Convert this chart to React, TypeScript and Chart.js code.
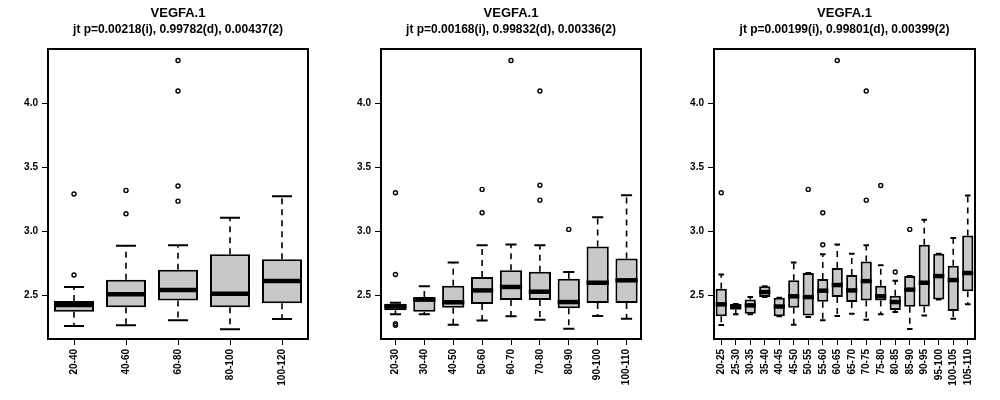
import React from "react";
import { Chart, registerables } from "chart.js";

Chart.register(...registerables);

const TITLE = "VEGFA.1";
const yTicks = [2.5, 3.0, 3.5, 4.0];

// panel 1
const labels1 = ["20-40", "40-60", "60-80", "80-100", "100-120"];
const q1_1 = [2.37, 2.404, 2.458, 2.404, 2.435];
const med1 = [2.422, 2.505, 2.539, 2.51, 2.609];
const q3_1 = [2.453, 2.62, 2.698, 2.818, 2.779];
const lo1 = [2.258, 2.263, 2.302, 2.232, 2.313];
const hi1 = [2.562, 2.885, 2.89, 3.104, 3.273];
const out1 = [[2.656, 3.29], [3.135, 3.318], [3.234, 3.352, 4.096, 4.334], [], []];

// panel 2
const labels2 = ["20-30", "30-40", "40-50", "50-60", "60-70", "70-80", "80-90", "90-100", "100-110"];
const q1_2 = [2.38, 2.37, 2.4, 2.43, 2.461, 2.461, 2.396, 2.4375, 2.4375];
const med2 = [2.41, 2.464, 2.443, 2.536, 2.563, 2.526, 2.445, 2.596, 2.615];
const q3_2 = [2.432, 2.484, 2.573, 2.641, 2.693, 2.682, 2.628, 2.88, 2.786];
const lo2 = [2.349, 2.349, 2.268, 2.3, 2.333, 2.307, 2.237, 2.336, 2.315];
const hi2 = [2.44, 2.568, 2.755, 2.89, 2.896, 2.89, 2.68, 3.109, 3.281];
const out2 = [[2.263, 2.276, 2.661, 3.3], [], [], [3.143, 3.326], [4.334], [3.242, 3.359, 4.096], [3.013], [], []];

// panel 3
const labels3 = ["20-25", "25-30", "30-35", "35-40", "40-45", "45-50", "50-55", "55-60", "60-65",
  "65-70", "70-75", "75-80", "80-85", "85-90", "90-95", "95-100", "100-105", "105-110"];
const q1_3 = [2.333, 2.385, 2.354, 2.484, 2.333, 2.4, 2.339, 2.448, 2.484, 2.445, 2.458, 2.458, 2.383, 2.409, 2.411, 2.464, 2.375, 2.529];
const med3 = [2.427, 2.41, 2.419, 2.523, 2.41, 2.49, 2.484, 2.534, 2.578, 2.536, 2.609, 2.49, 2.445, 2.542, 2.596, 2.648, 2.617, 2.672];
const q3_3 = [2.549, 2.43, 2.464, 2.568, 2.479, 2.615, 2.672, 2.625, 2.711, 2.656, 2.763, 2.573, 2.495, 2.648, 2.893, 2.823, 2.729, 2.966];
const lo3 = [2.266, 2.349, 2.349, 2.484, 2.333, 2.268, 2.328, 2.302, 2.336, 2.354, 2.307, 2.349, 2.367, 2.234, 2.339, 2.464, 2.315, 2.427];
const hi3 = [2.661, 2.43, 2.484, 2.568, 2.479, 2.755, 2.672, 2.818, 2.896, 2.823, 2.89, 2.732, 2.612, 2.648, 3.089, 2.823, 2.945, 3.279];
const out3 = [[3.3], [], [], [], [], [], [3.326], [2.893, 3.143], [4.334], [], [3.242, 4.096], [3.357], [2.68], [3.013], [], [], [], []];

type Panel = {
  labels: string[]; q1: number[]; med: number[]; q3: number[];
  lo: number[]; hi: number[]; out: number[][]; sub: string; width: number;
};

const panels: Panel[] = [
  { labels: labels1, q1: q1_1, med: med1, q3: q3_1, lo: lo1, hi: hi1, out: out1, sub: "jt p=0.00218(i), 0.99782(d), 0.00437(2)", width: 333 },
  { labels: labels2, q1: q1_2, med: med2, q3: q3_2, lo: lo2, hi: hi2, out: out2, sub: "jt p=0.00168(i), 0.99832(d), 0.00336(2)", width: 333 },
  { labels: labels3, q1: q1_3, med: med3, q3: q3_3, lo: lo3, hi: hi3, out: out3, sub: "jt p=0.00199(i), 0.99801(d), 0.00399(2)", width: 334 },
];

const FONT = "'Liberation Sans', Arial, sans-serif";

function BoxPanel({ p }: { p: Panel }) {
  const ref = React.useRef<HTMLCanvasElement | null>(null);
  React.useEffect(() => {
    if (!ref.current) return;
    const boxPlugin = {
      id: "boxextras",
      beforeDatasetsDraw(chart: any) {
        const ctx = chart.ctx;
        const xs = chart.scales.x, ys = chart.scales.y;
        const bw = (xs.getPixelForValue(1) - xs.getPixelForValue(0)) * 0.77;
        ctx.save();
        ctx.strokeStyle = "#000";
        ctx.lineWidth = 1.6;
        p.labels.forEach((_, i) => {
          const x = xs.getPixelForValue(i);
          ctx.setLineDash([6, 5]);
          ctx.beginPath();
          ctx.moveTo(x, ys.getPixelForValue(p.q3[i]));
          ctx.lineTo(x, ys.getPixelForValue(p.hi[i]));
          ctx.moveTo(x, ys.getPixelForValue(p.q1[i]));
          ctx.lineTo(x, ys.getPixelForValue(p.lo[i]));
          ctx.stroke();
          ctx.setLineDash([]);
          ctx.lineWidth = 2;
          ctx.beginPath();
          for (const v of [p.hi[i], p.lo[i]]) {
            const y = ys.getPixelForValue(v);
            ctx.moveTo(x - bw / 4, y);
            ctx.lineTo(x + bw / 4, y);
          }
          ctx.stroke();
          ctx.lineWidth = 1.6;
        });
        ctx.restore();
      },
      afterDatasetsDraw(chart: any) {
        const ctx = chart.ctx;
        const xs = chart.scales.x, ys = chart.scales.y;
        const a = chart.chartArea;
        const bw = (xs.getPixelForValue(1) - xs.getPixelForValue(0)) * 0.77;
        ctx.save();
        ctx.strokeStyle = "#000";
        p.labels.forEach((_, i) => {
          const x = xs.getPixelForValue(i);
          ctx.lineWidth = 4.5;
          ctx.beginPath();
          const y = ys.getPixelForValue(p.med[i]);
          ctx.moveTo(x - bw / 2, y);
          ctx.lineTo(x + bw / 2, y);
          ctx.stroke();
          ctx.lineWidth = 1.4;
          for (const v of p.out[i]) {
            ctx.beginPath();
            ctx.arc(x, ys.getPixelForValue(v), 2, 0, Math.PI * 2);
            ctx.stroke();
          }
        });
        ctx.lineWidth = 2;
        ctx.strokeRect(a.left, a.top, a.right - a.left, a.bottom - a.top);
        const cx = (a.left + a.right) / 2;
        ctx.fillStyle = "#000";
        ctx.textAlign = "center";
        ctx.textBaseline = "middle";
        ctx.font = `bold 13px ${FONT}`;
        ctx.fillText(TITLE, cx, 13);
        ctx.font = `bold 12px ${FONT}`;
        ctx.fillText(p.sub, cx, 30);
        ctx.restore();
      },
    };
    const chart = new Chart(ref.current, {
      type: "bar",
      data: {
        labels: p.labels,
        datasets: [{
          data: p.q1.map((v, i) => [v, p.q3[i]]) as any,
          backgroundColor: "#c8c8c8",
          borderColor: "#000",
          borderWidth: 2,
          borderSkipped: false,
          barPercentage: 0.77,
          categoryPercentage: 1,
        }],
      },
      options: {
        animation: false,
        responsive: false,
        layout: { padding: { left: 0, right: 25, top: 49, bottom: 0 } },
        plugins: { legend: { display: false }, tooltip: { enabled: false }, title: { display: false } },
        scales: {
          x: {
            type: "category",
            offset: true,
            grid: { drawOnChartArea: false, drawTicks: true, tickLength: 6, color: "#000", offset: false },
            border: { display: false },
            ticks: {
              autoSkip: false, minRotation: 90, maxRotation: 90, padding: 4, color: "#000",
              font: { family: FONT, weight: "bold", size: 10 },
            },
            afterFit: (s: any) => { s.height = 61; },
          },
          y: {
            min: 2.156, max: 4.424,
            afterBuildTicks: (s: any) => { s.ticks = yTicks.map((v) => ({ value: v })); },
            grid: { drawOnChartArea: false, drawTicks: true, tickLength: 6, color: "#000" },
            border: { display: false },
            ticks: {
              padding: 4, color: "#000",
              font: { family: FONT, weight: "bold", size: 10 },
              callback: (v: any) => Number(v).toFixed(1),
            },
            afterFit: (s: any) => { s.width = 48; },
          },
        },
      },
      plugins: [boxPlugin],
    } as any);
    return () => chart.destroy();
  }, [p]);
  return <canvas ref={ref} width={p.width} height={400} style={{ display: "block" }} />;
}

export default function App() {
  React.useEffect(() => { document.body.style.margin = "0"; }, []);
  return (
    <div style={{ display: "flex", width: 1000, height: 400, background: "#fff" }}>
      {panels.map((p, i) => <BoxPanel key={i} p={p} />)}
    </div>
  );
}
